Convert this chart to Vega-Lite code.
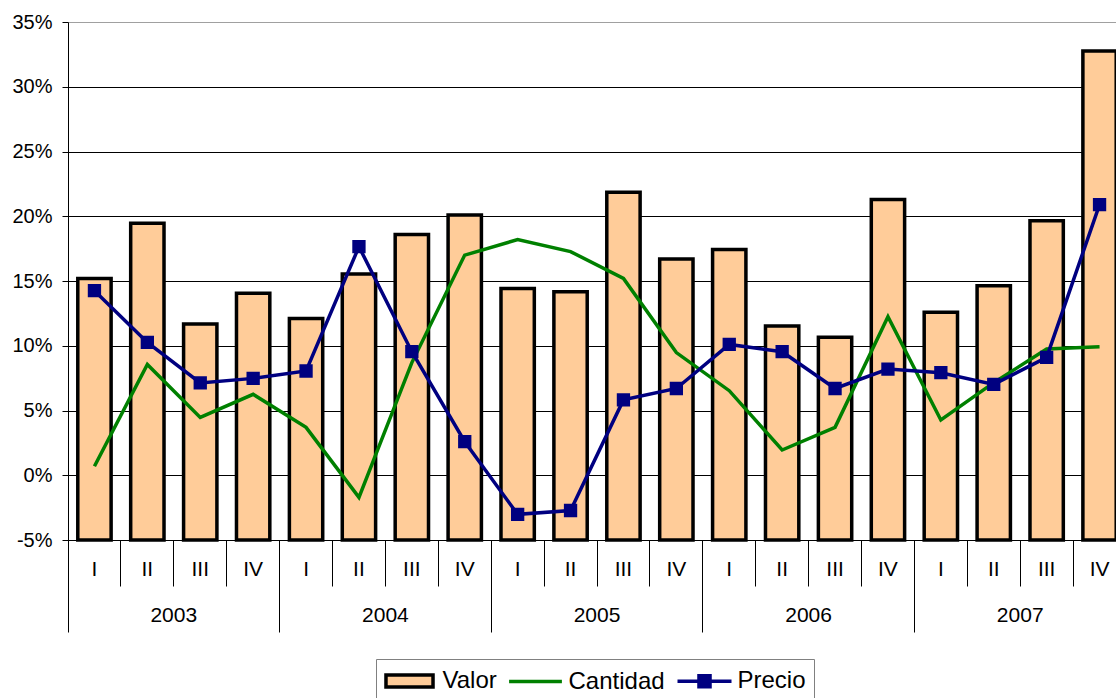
{
  "$schema": "https://vega.github.io/schema/vega-lite/v6.json",
  "width": 1058,
  "height": 518,
  "autosize": {"type": "none"},
  "padding": {"left": 68, "top": 22, "right": -10, "bottom": 158},
  "background": "white",
  "config": {
    "view": {"stroke": null},
    "font": "Liberation Sans",
    "axis": {"labelFont": "Liberation Sans", "labelColor": "black", "titleColor": "black"}
  },
  "data": {
    "values": [
      {"k": "2003-I", "year": "2003", "Valor": 15.2, "Cantidad": 0.7, "Precio": 14.25},
      {"k": "2003-II", "year": "2003", "Valor": 19.45, "Cantidad": 8.56, "Precio": 10.26},
      {"k": "2003-III", "year": "2003", "Valor": 11.68, "Cantidad": 4.47, "Precio": 7.13},
      {"k": "2003-IV", "year": "2003", "Valor": 14.05, "Cantidad": 6.25, "Precio": 7.48},
      {"k": "2004-I", "year": "2004", "Valor": 12.1, "Cantidad": 3.7, "Precio": 8.05},
      {"k": "2004-II", "year": "2004", "Valor": 15.54, "Cantidad": -1.71, "Precio": 17.65},
      {"k": "2004-III", "year": "2004", "Valor": 18.6, "Cantidad": 8.7, "Precio": 9.54},
      {"k": "2004-IV", "year": "2004", "Valor": 20.1, "Cantidad": 17.0, "Precio": 2.59},
      {"k": "2005-I", "year": "2005", "Valor": 14.43, "Cantidad": 18.2, "Precio": -3.02},
      {"k": "2005-II", "year": "2005", "Valor": 14.17, "Cantidad": 17.27, "Precio": -2.72},
      {"k": "2005-III", "year": "2005", "Valor": 21.86, "Cantidad": 15.2, "Precio": 5.82},
      {"k": "2005-IV", "year": "2005", "Valor": 16.7, "Cantidad": 9.47, "Precio": 6.7},
      {"k": "2006-I", "year": "2006", "Valor": 17.43, "Cantidad": 6.53, "Precio": 10.1},
      {"k": "2006-II", "year": "2006", "Valor": 11.52, "Cantidad": 1.95, "Precio": 9.54},
      {"k": "2006-III", "year": "2006", "Valor": 10.65, "Cantidad": 3.7, "Precio": 6.7},
      {"k": "2006-IV", "year": "2006", "Valor": 21.3, "Cantidad": 12.24, "Precio": 8.2},
      {"k": "2007-I", "year": "2007", "Valor": 12.58, "Cantidad": 4.27, "Precio": 7.92},
      {"k": "2007-II", "year": "2007", "Valor": 14.64, "Cantidad": 7.15, "Precio": 7.02},
      {"k": "2007-III", "year": "2007", "Valor": 19.65, "Cantidad": 9.75, "Precio": 9.1},
      {"k": "2007-IV", "year": "2007", "Valor": 32.76, "Cantidad": 9.93, "Precio": 20.9}
    ]
  },
  "transform": [{"fold": ["Valor", "Cantidad", "Precio"], "as": ["serie", "v"]}],
  "layer": [
    {
      "encoding": {
        "x": {
          "field": "k", "type": "nominal",
          "scale": {"type": "band", "paddingInner": 0, "paddingOuter": 0},
          "axis": {
            "title": null, "orient": "bottom", "bandPosition": 0,
            "tickSize": 46, "tickColor": "black", "tickWidth": 1,
            "domainColor": "black", "domainWidth": 1,
            "labelExpr": "split(datum.value, '-')[1]",
            "labelAngle": 0, "labelPadding": -28, "labelBaseline": "top",
            "labelFontSize": 21, "labelOverlap": false, "labelBound": false, "grid": false
          }
        },
        "y": {
          "field": "v", "type": "quantitative",
          "scale": {"domain": [-5, 35], "nice": false, "zero": false},
          "axis": {
            "title": null, "values": [-5, 0, 5, 10, 15, 20, 25, 30, 35],
            "labelExpr": "datum.value + '%'", "labelFontSize": 20,
            "tickSize": 6, "tickColor": "black", "labelPadding": 10,
            "domainColor": "black", "grid": true,
            "gridColor": {"condition": {"test": "datum.value === 35", "value": "#a0a0a0"}, "value": "black"},
            "gridWidth": 1
          }
        },
        "stroke": {
          "field": "serie", "type": "nominal",
          "scale": {"domain": ["Valor", "Cantidad", "Precio"], "range": ["#000000", "#008000", "#000080"]},
          "legend": {
            "title": null, "orient": "none", "legendX": 308, "legendY": 637,
            "direction": "horizontal", "strokeColor": "#808080", "fillColor": "white",
            "padding": 8, "labelFontSize": 24, "labelColor": "black", "labelFont": "Liberation Sans",
            "symbolSize": 576, "symbolStrokeWidth": 3.5, "symbolOffset": 11.5, "labelOffset": 19, "columnPadding": 5,
            "encode": {
              "symbols": {
                "update": {
                  "shape": {"signal": "datum.value === 'Valor' ? 'M-1.96,-0.5H1.96V0.5H-1.96Z' : datum.value === 'Cantidad' ? 'M-2.2,0H2.2' : 'M-2.25,0H2.25M-0.46,-0.46H0.46V0.46H-0.46Z'"},
                  "strokeWidth": {"value": 3.5},
                  "opacity": {"value": 1}
                }
              }
            }
          }
        }
      },
      "layer": [
        {
          "transform": [{"filter": "datum.serie === 'Valor'"}],
          "mark": {"type": "bar", "width": {"band": 0.63}, "strokeWidth": 3.5},
          "encoding": {
            "y2": {"datum": -5},
            "fill": {
              "field": "serie", "type": "nominal",
              "scale": {"domain": ["Valor", "Cantidad", "Precio"], "range": ["#FFCC99", "transparent", "#000080"]},
              "legend": {
                "title": null, "orient": "none", "legendX": 308, "legendY": 637,
                "direction": "horizontal", "strokeColor": "#808080", "fillColor": "white",
                "padding": 8, "labelFontSize": 24, "labelColor": "black", "labelFont": "Liberation Sans",
                "symbolSize": 576, "symbolStrokeWidth": 3.5, "symbolOffset": 11.5, "labelOffset": 19, "columnPadding": 5,
                "encode": {
                  "symbols": {
                    "update": {
                      "shape": {"signal": "datum.value === 'Valor' ? 'M-1.96,-0.5H1.96V0.5H-1.96Z' : datum.value === 'Cantidad' ? 'M-2.2,0H2.2' : 'M-2.25,0H2.25M-0.46,-0.46H0.46V0.46H-0.46Z'"},
                      "strokeWidth": {"value": 3.5},
                      "opacity": {"value": 1}
                    }
                  }
                }
              }
            }
          }
        },
        {
          "transform": [{"filter": "datum.serie === 'Cantidad'"}],
          "mark": {"type": "line", "strokeWidth": 3.5}
        },
        {
          "transform": [{"filter": "datum.serie === 'Precio'"}],
          "mark": {"type": "line", "strokeWidth": 3.5, "point": {"shape": "square", "size": 128, "filled": true, "fill": "#000080", "opacity": 1}}
        }
      ]
    },
    {
      "transform": [{"filter": "datum.serie === 'Valor'"}],
      "mark": {"type": "rule", "opacity": 0},
      "encoding": {
        "x": {
          "field": "year", "type": "nominal",
          "scale": {"type": "band", "paddingInner": 0, "paddingOuter": 0},
          "axis": {
            "title": null, "orient": "bottom", "bandPosition": 0, "domain": false,
            "tickSize": 92, "tickColor": "black", "tickWidth": 1,
            "labelAngle": 0, "labelPadding": -28, "labelBaseline": "top",
            "labelFontSize": 21, "labelOverlap": false, "labelBound": false, "grid": false
          }
        }
      }
    }
  ],
  "resolve": {"scale": {"x": "independent"}, "axis": {"x": "independent"}}
}
